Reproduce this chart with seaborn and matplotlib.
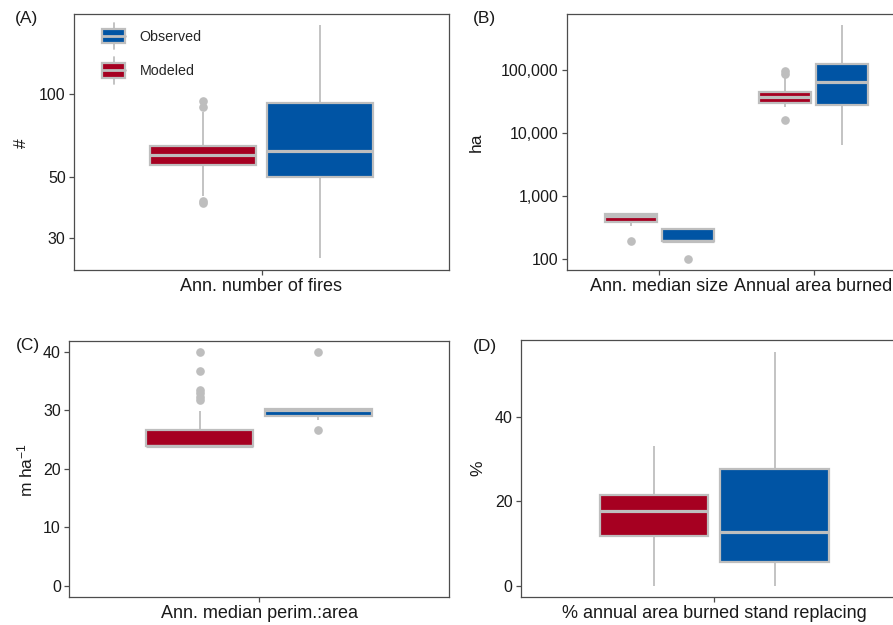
import numpy as np
import pandas as pd
import matplotlib
matplotlib.use("Agg")
import matplotlib.pyplot as plt
import seaborn as sns
from matplotlib.patches import Rectangle, Patch
from matplotlib.lines import Line2D
from matplotlib.legend_handler import HandlerBase
from matplotlib.ticker import FixedLocator, NullLocator

# ---------------- data (annual values) ----------------
# (A) annual number of fires
a_modeled = [40.2, 41.0, 42.5, 55.3, 57.0, 58.5, 60.0, 62.0, 63.5, 64.8, 86.0, 89.5, 94.3]
a_observed = [25.4, 49.8, 62.3, 92.5, 177.8]
# (B) annual median fire size and annual area burned (ha)
b_size_modeled = [195, 334, 391, 450, 490, 500, 512, 512, 512]
b_size_observed = [100, 196, 196, 296, 296]
b_area_modeled = [16070, 26100, 29000, 30270, 33000, 35500, 37700, 40000, 43000,
                  45260, 73800, 88000, 97000]
b_area_observed = [6450, 27800, 65200, 124500, 518000]
# (C) annual median perimeter:area ratio (m ha-1)
c_modeled = [23.9, 23.9, 23.9, 23.9, 23.9, 23.9, 23.9, 23.9, 23.9, 23.9, 23.9, 23.9,
             23.9, 23.9, 23.9, 24.5, 25.0, 25.5, 26.0, 26.3, 26.5, 26.7, 29.9, 31.75,
             32.3, 33.0, 33.5, 36.7, 40.0]
c_observed = [26.6, 28.4, 29.06, 29.5, 30.0, 30.1, 30.2, 30.2, 40.0]
# (D) % annual area burned stand replacing
d_modeled = [0.0, 11.7, 17.8, 21.6, 33.2]
d_observed = [0.0, 5.6, 12.8, 27.7, 55.4]

sources = ["Modeled", "Observed"]
cat_a = ["Ann. number of fires"]
cat_b = ["Ann. median size", "Annual area burned"]
cat_c = ["Ann. median perim.:area"]
cat_d = ["% annual area burned stand replacing"]

RED = "#A60021"
BLUE = "#0054A4"
GRAY = "#BEBEBE"
SPINE = "#4D4D4D"
TXT = "#1A1A1A"


def frame(groups):
    rows = []
    for cat, src, vals in groups:
        for v in vals:
            rows.append({"metric": cat, "source": src, "value": v})
    return pd.DataFrame(rows)


df_a = frame([(cat_a[0], "Modeled", a_modeled), (cat_a[0], "Observed", a_observed)])
df_b = frame([(cat_b[0], "Modeled", b_size_modeled), (cat_b[0], "Observed", b_size_observed),
              (cat_b[1], "Modeled", b_area_modeled), (cat_b[1], "Observed", b_area_observed)])
df_c = frame([(cat_c[0], "Modeled", c_modeled), (cat_c[0], "Observed", c_observed)])
df_d = frame([(cat_d[0], "Modeled", d_modeled), (cat_d[0], "Observed", d_observed)])

sns.set_theme(style="ticks")
plt.rcParams["font.family"] = ["Liberation Sans", "DejaVu Sans"]
plt.rcParams["mathtext.fontset"] = "custom"
plt.rcParams["mathtext.rm"] = "Liberation Sans"
plt.rcParams["mathtext.default"] = "regular"

W, H = 893, 625
fig = plt.figure(figsize=(W / 100, H / 100), dpi=100)


def add_ax(l, r, t, b):
    return fig.add_axes([l / W, 1 - b / H, (r - l) / W, (b - t) / H])


ax_a = add_ax(74, 449, 14, 270)
ax_b = add_ax(567, 906, 14, 270)
ax_c = add_ax(69.3, 449, 340.7, 597.3)
ax_d = add_ax(521, 907.6, 340, 597)

ax_a.set_yscale("log")
ax_b.set_yscale("log")

common = dict(x="metric", y="value", hue="source", hue_order=sources,
              palette={"Modeled": RED, "Observed": BLUE}, width=0.75, gap=0.1,
              linecolor=GRAY, linewidth=1.6, showcaps=False, saturation=1,
              legend=False,
              medianprops=dict(linewidth=2.3),
              whiskerprops=dict(linewidth=1.3),
              flierprops=dict(marker="o", markerfacecolor=GRAY, markeredgecolor=GRAY,
                              markersize=5.2))

sns.boxplot(data=df_a, order=cat_a, whis=1.8, ax=ax_a, **common)
sns.boxplot(data=df_b, order=cat_b, whis=1.5, ax=ax_b, **common)
sns.boxplot(data=df_c, order=cat_c, whis=1.5, ax=ax_c, **common)
sns.boxplot(data=df_d, order=cat_d, whis=1.5, ax=ax_d, **common)

# axes styling
for ax in (ax_a, ax_b, ax_c, ax_d):
    ax.set_xlabel("")
    ax.set_ylabel("")
    for s in ax.spines.values():
        s.set_visible(True)
        s.set_color(SPINE)
        s.set_linewidth(0.9)
    ax.tick_params(axis="both", length=3.5, width=0.9, color=SPINE, pad=2.5,
                   labelcolor=TXT)
    ax.tick_params(axis="y", labelsize=11.5)
    ax.tick_params(axis="x", labelsize=13, pad=2.0)
    ax.set_facecolor("white")

ax_a.set_xlim(-0.6, 0.6)
ax_b.set_xlim(-0.6, 1.6)
ax_c.set_xlim(-0.6, 0.6)
ax_d.set_xlim(-0.6, 0.6)

ax_a.set_ylim(23.0, 195)
ax_a.yaxis.set_major_locator(FixedLocator([30, 50, 100]))
ax_a.yaxis.set_minor_locator(NullLocator())
ax_a.set_yticklabels(["30", "50", "100"])

ax_b.set_ylim(67, 774000)
ax_b.yaxis.set_major_locator(FixedLocator([100, 1000, 10000, 100000]))
ax_b.yaxis.set_minor_locator(NullLocator())
ax_b.set_yticklabels(["100", "1,000", "10,000", "100,000"])

ax_c.set_ylim(-1.93, 41.86)
ax_c.set_yticks([0, 10, 20, 30, 40])

ax_d.set_ylim(-2.69, 58.34)
ax_d.set_yticks([0, 20, 40])


# legend with boxplot-like keys
class BoxHandler(HandlerBase):
    def create_artists(self, legend, orig_handle, xdescent, ydescent, width, height,
                       fontsize, trans):
        x0, y0 = -xdescent, -ydescent
        cx = x0 + width / 2
        wl = Line2D([cx, cx], [y0 - 0.4 * height, y0 + 1.4 * height], color=GRAY,
                    lw=1.3, transform=trans)
        rect = Rectangle((x0, y0), width, height, facecolor=orig_handle.get_facecolor(),
                         edgecolor=GRAY, lw=1.6, transform=trans)
        ml = Line2D([x0, x0 + width], [y0 + height / 2] * 2, color=GRAY, lw=2.0,
                    transform=trans)
        return [wl, rect, ml]


handles = [Patch(facecolor=BLUE), Patch(facecolor=RED)]
ax_a.legend(handles, ["Observed", "Modeled"], handler_map={Patch: BoxHandler()},
            loc="upper left", bbox_to_anchor=(101.7 / W, 1 - 28.5 / H),
            bbox_transform=fig.transFigure, frameon=False, fontsize=10.3,
            handlelength=1.65, handleheight=1.2, labelspacing=1.35,
            handletextpad=1.0, borderpad=0, borderaxespad=0)

# panel letters
for lab, x, y in [("(A)", 15, 19), ("(B)", 472.7, 18), ("(C)", 15.5, 345), ("(D)", 473, 346)]:
    fig.text(x / W, 1 - y / H, lab, ha="left", va="center", fontsize=12.5, color=TXT)

# y-axis titles
for lab, x, y in [("#", 21.7, 143), ("ha", 476.7, 142), (r"m ha$^{-1}$", 25, 470),
                  ("%", 478, 468)]:
    fig.text(x / W, 1 - y / H, lab, ha="center", va="center", rotation=90,
             fontsize=12.5, color=TXT)

fig.savefig("out.png", dpi=100)
